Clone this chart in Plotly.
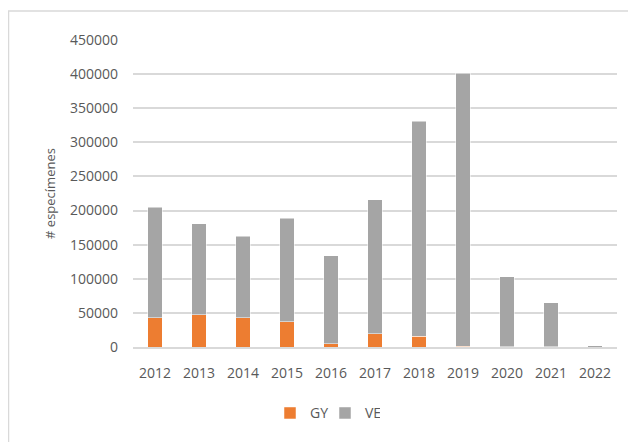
import plotly.graph_objects as go

years = ["2012", "2013", "2014", "2015", "2016", "2017", "2018", "2019", "2020", "2021", "2022"]
gy = [43000, 47000, 43000, 37000, 5000, 19500, 16000, 1000, 300, 300, 0]
ve = [162000, 133500, 119000, 152000, 128500, 196500, 315000, 400000, 103000, 64700, 1500]
y_ticks = [0, 50000, 100000, 150000, 200000, 250000, 300000, 350000, 400000, 450000]

# page body has an 8px default margin, so the figure is drawn at (8, 8)
OFF = 8
W, H = 636 - OFF, 442 - OFF
L = 133 - OFF
T = 40 - OFF
R = W - (617 - OFF)
B = H - (346.7 - OFF)

FONT = "Open Sans"
TXT = "#595959"

fig = go.Figure()
fig.add_trace(go.Bar(x=years, y=gy, name="GY", marker=dict(color="#ED7D31", line=dict(color="white", width=0.5))))
fig.add_trace(go.Bar(x=years, y=ve, name="VE", marker=dict(color="#A5A5A5", line=dict(color="white", width=0.5))))

pw = W - L - R
ph = H - T - B
def px_x(p):
    return (p - OFF - L) / pw
def px_y(p):
    return (H - B - (p - OFF)) / ph

fig.update_layout(
    width=W, height=H,
    barmode="stack",
    bargap=0.68,
    plot_bgcolor="white", paper_bgcolor="white",
    margin=dict(l=L, r=R, t=T, b=B, pad=0, autoexpand=False),
    font=dict(family=FONT, size=14, color=TXT),
    showlegend=True,
    legend=dict(orientation="h", x=px_x(270), xanchor="left", y=px_y(413), yanchor="middle",
                font=dict(size=14, color=TXT), traceorder="normal",
                entrywidth=10, entrywidthmode="pixels"),
    xaxis=dict(showgrid=False, showline=True, linecolor="#D9D9D9", linewidth=1.5,
               ticks="", ticklabelstandoff=12, tickfont=dict(size=14, color=TXT)),
    yaxis=dict(range=[0, 450000], tickvals=y_ticks, ticktext=[str(v) for v in y_ticks],
               showgrid=True, gridcolor="#D9D9D9", gridwidth=1.5, zeroline=False,
               ticks="", ticklabelstandoff=14, tickfont=dict(size=14, color=TXT),
               title=dict(text="# especímenes", font=dict(size=13, color=TXT), standoff=11)),
    shapes=[dict(type="rect", xref="paper", yref="paper",
                 x0=px_x(8.5), x1=px_x(660), y0=px_y(470), y1=px_y(11),
                 line=dict(color="#D9D9D9", width=1.5), fillcolor="rgba(0,0,0,0)", layer="below")],
)

fig.write_html("out.html")
